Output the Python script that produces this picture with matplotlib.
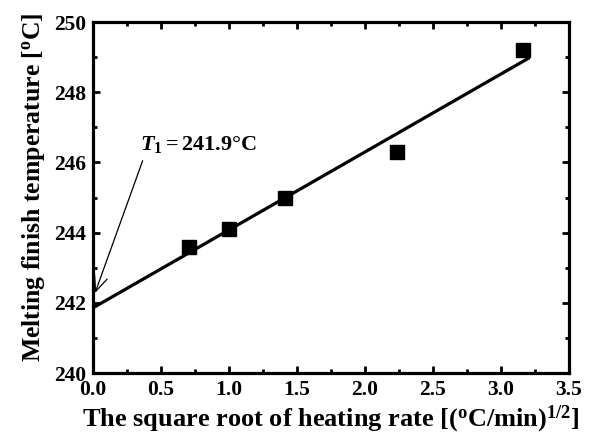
import numpy as np
import matplotlib
matplotlib.use("Agg")
import matplotlib.pyplot as plt
from matplotlib.ticker import MultipleLocator, FormatStrFormatter

plt.rcParams['font.family'] = ['Liberation Serif', 'DejaVu Serif']
plt.rcParams['font.weight'] = 'bold'
plt.rcParams['mathtext.fontset'] = 'custom'
plt.rcParams['mathtext.rm'] = 'Liberation Serif:bold'
plt.rcParams['mathtext.bf'] = 'Liberation Serif:bold'
plt.rcParams['mathtext.it'] = 'Liberation Serif:italic:bold'

# sqrt of heating rate (0.5, 1, 2, 5, 10 C/min)
sqrtRate = [0.707, 1.0, 1.414, 2.236, 3.162]
meltFinish = [243.6, 244.1, 245.0, 246.3, 249.2]
fitRange = [0.0, 3.2]
interceptLabel = r'$T_1=$241.9°C'

# linear fit -> intercept is the equilibrium value
slope, intercept = np.polyfit(sqrtRate, meltFinish, 1)
xFit = np.array(fitRange)
yFit = intercept + slope*xFit

fig = plt.figure(figsize=(5.92, 4.44), dpi=100)
ax = fig.add_axes([93/592, 1-373/444, (569-93)/592, (373-22)/444])

ax.plot(xFit, yFit, color='black', linewidth=2.3)
ax.plot(sqrtRate, meltFinish, linestyle='none', marker='s', markersize=9.5, color='black')

ax.annotate(interceptLabel, xy=(0.015, 242.28), xytext=(0.345, 246.5),
            fontsize=16, fontweight='bold', ha='left', va='center',
            arrowprops=dict(arrowstyle='->,head_length=0.7,head_width=0.3', color='black',
                            lw=0.9, shrinkA=2, shrinkB=0, relpos=(0.04, 0.0)))

ax.set_xlim(0, 3.5)
ax.set_ylim(240, 250)
ax.xaxis.set_major_locator(MultipleLocator(0.5))
ax.xaxis.set_minor_locator(MultipleLocator(0.25))
ax.yaxis.set_major_locator(MultipleLocator(2))
ax.yaxis.set_minor_locator(MultipleLocator(1))
ax.xaxis.set_major_formatter(FormatStrFormatter('%.1f'))

ax.tick_params(which='both', direction='in', top=True, right=True, width=2, labelsize=15.5)
ax.tick_params(which='major', length=5, pad=5)
ax.tick_params(which='minor', length=3)
for s in ax.spines.values():
    s.set_linewidth(2.3)

ax.set_xlabel(r'The square root of heating rate [($^{\mathrm{o}}$C/min)$^{1/2}$]', fontsize=19, fontweight='bold', labelpad=3)
ax.set_ylabel(r'Melting finish temperature [$^{\mathrm{o}}$C]', fontsize=18.5, fontweight='bold', labelpad=5, y=0.53)

fig.savefig('out.png', dpi=100)
